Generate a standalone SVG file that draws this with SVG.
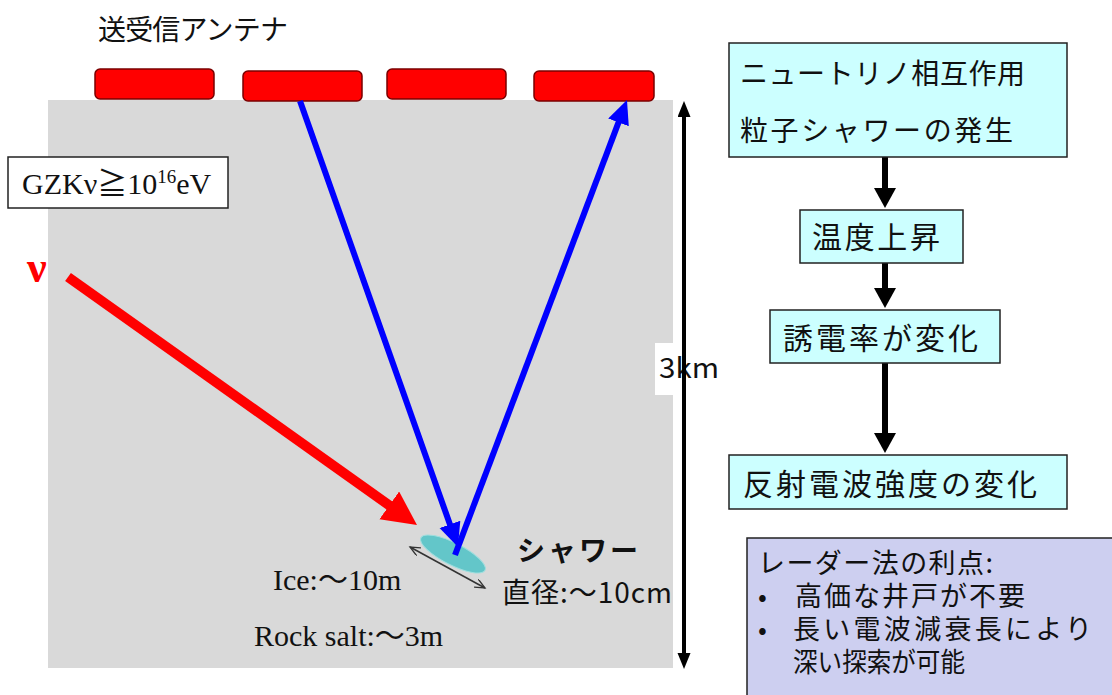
<svg xmlns="http://www.w3.org/2000/svg" width="1112" height="695" viewBox="0 0 1112 695">
<style>
.jp{font-family:"Noto Sans CJK JP","Noto Sans",sans-serif;fill:#111}
.tm{font-family:"Liberation Serif","Noto Sans CJK JP",serif;fill:#111}
.ant{fill:#ff0000;stroke:#7a0000;stroke-width:1.5}
.flow{fill:#ccffff;stroke:#222;stroke-width:1.5}
.adv{fill:#cdcff0;stroke:#222;stroke-width:1.5}
</style>
<defs>
<marker id="mBlue" markerUnits="userSpaceOnUse" markerWidth="26" markerHeight="24" refX="2" refY="11" orient="auto" viewBox="0 0 26 24"><path d="M0,0 L24,11 L0,22 z" fill="#0000ff"/></marker>
<marker id="mRed" markerUnits="userSpaceOnUse" markerWidth="36" markerHeight="36" refX="2" refY="17" orient="auto" viewBox="0 0 36 36"><path d="M0,0 L34,17 L0,34 z" fill="#ff0000"/></marker>
<marker id="mBlack" markerUnits="userSpaceOnUse" markerWidth="22" markerHeight="24" refX="1" refY="11" orient="auto" viewBox="0 0 22 24"><path d="M0,0 L20,11 L0,22 z" fill="#000"/></marker>
<marker id="mDim" markerUnits="userSpaceOnUse" markerWidth="18" markerHeight="14" refX="1" refY="6.5" orient="auto-start-reverse" viewBox="0 0 18 14"><path d="M0,0 L16,6.5 L0,13 z" fill="#000"/></marker>
<marker id="mThin" markerUnits="userSpaceOnUse" markerWidth="12" markerHeight="10" refX="10" refY="4.5" orient="auto-start-reverse" viewBox="0 0 12 10"><path d="M0,0 L10,4.5 L0,9" fill="none" stroke="#333" stroke-width="1.3"/></marker>
</defs>
<rect width="1112" height="695" fill="#fff"/>

<g id="medium">
<rect x="48" y="100" width="625" height="568" fill="#d9d9d9"/>
</g>

<g id="title"><text class="jp" x="98" y="40" font-size="28" textLength="190">送受信アンテナ</text></g>

<g id="antennas">
<rect id="antenna1" class="ant" x="95" y="69" width="119" height="30" rx="5"/>
<rect id="antenna2" class="ant" x="243" y="71" width="119" height="30" rx="5"/>
<rect id="antenna3" class="ant" x="387" y="69" width="119" height="30" rx="5"/>
<rect id="antenna4" class="ant" x="534" y="71" width="120" height="30" rx="5"/>
</g>

<g id="gzk">
<rect x="8" y="157" width="220" height="51" fill="#fff" stroke="#222" stroke-width="1.5"/>
<text class="tm" x="22" y="194" font-size="30">GZKν≧10<tspan font-size="19" dy="-11">16</tspan><tspan dy="11">eV</tspan></text>
</g>

<g id="nu"><text x="27" y="282" font-family="Liberation Serif,serif" font-weight="bold" font-size="44" fill="#ff0000">ν</text></g>

<g id="shower">
<ellipse cx="453" cy="554" rx="36" ry="11" transform="rotate(27 453 554)" fill="#63c6c9" stroke="#9fdede" stroke-width="1"/>
<text class="jp" x="517" y="561" font-size="28" font-weight="bold" textLength="121">シャワー</text>
<text class="jp" x="502" y="603" font-size="28" textLength="170">直径:〜10cm</text>
</g>

<g id="sizes">
<text class="tm" x="273" y="590" font-size="30">Ice:〜10m</text>
<text class="tm" x="254" y="646" font-size="30">Rock salt:〜3m</text>
</g>

<g id="depth-label">
<rect x="655" y="343" width="67" height="52" fill="#fff"/>
<text class="jp" x="659" y="378" font-size="28" textLength="60" lengthAdjust="spacingAndGlyphs">3km</text>
</g>

<g id="connectors">
<line x1="68" y1="277" x2="390.9" y2="506.5" stroke="#ff0000" stroke-width="10" marker-end="url(#mRed)"/>
<line x1="300" y1="101" x2="450.6" y2="526.3" stroke="#0000ff" stroke-width="6" marker-end="url(#mBlue)"/>
<line x1="455" y1="555" x2="619.2" y2="120.6" stroke="#0000ff" stroke-width="6" marker-end="url(#mBlue)"/>
<line x1="684" y1="116" x2="684" y2="654" stroke="#000" stroke-width="4" marker-start="url(#mDim)" marker-end="url(#mDim)"/>
<line x1="410" y1="547" x2="485" y2="588" stroke="#333" stroke-width="1.5" marker-start="url(#mThin)" marker-end="url(#mThin)"/>
<line x1="885" y1="157" x2="885" y2="189" stroke="#000" stroke-width="6" marker-end="url(#mBlack)"/>
<line x1="885" y1="263" x2="885" y2="289" stroke="#000" stroke-width="6" marker-end="url(#mBlack)"/>
<line x1="885" y1="363" x2="885" y2="434" stroke="#000" stroke-width="6" marker-end="url(#mBlack)"/>
</g>

<g id="box-interaction">
<rect class="flow" x="729" y="43" width="338" height="114"/>
<text class="jp" x="740" y="84" font-size="28" textLength="285">ニュートリノ相互作用</text>
<text class="jp" x="740" y="141" font-size="28" textLength="273">粒子シャワーの発生</text>
</g>
<g id="box-temp">
<rect class="flow" x="800" y="210" width="163" height="53"/>
<text class="jp" x="812" y="248" font-size="30" textLength="128">温度上昇</text>
</g>
<g id="box-permittivity">
<rect class="flow" x="770" y="310" width="230" height="53"/>
<text class="jp" x="783" y="349" font-size="30" textLength="195">誘電率が変化</text>
</g>
<g id="box-reflection">
<rect class="flow" x="729" y="455" width="338" height="54"/>
<text class="jp" x="743" y="495" font-size="30" textLength="294">反射電波強度の変化</text>
</g>
<g id="box-advantages">
<rect class="adv" x="747" y="538" width="380" height="170"/>
<text class="jp" x="758" y="573" font-size="27" textLength="235">レーダー法の利点:</text>
<text class="jp" x="758" y="606" font-size="26">•</text>
<text class="jp" x="795" y="606" font-size="27" textLength="230">高価な井戸が不要</text>
<text class="jp" x="758" y="639" font-size="26">•</text>
<text class="jp" x="793" y="639" font-size="27" textLength="299">長い電波減衰長により</text>
<text class="jp" x="793" y="672" font-size="27" textLength="172" lengthAdjust="spacingAndGlyphs">深い探索が可能</text>
</g>
</svg>
